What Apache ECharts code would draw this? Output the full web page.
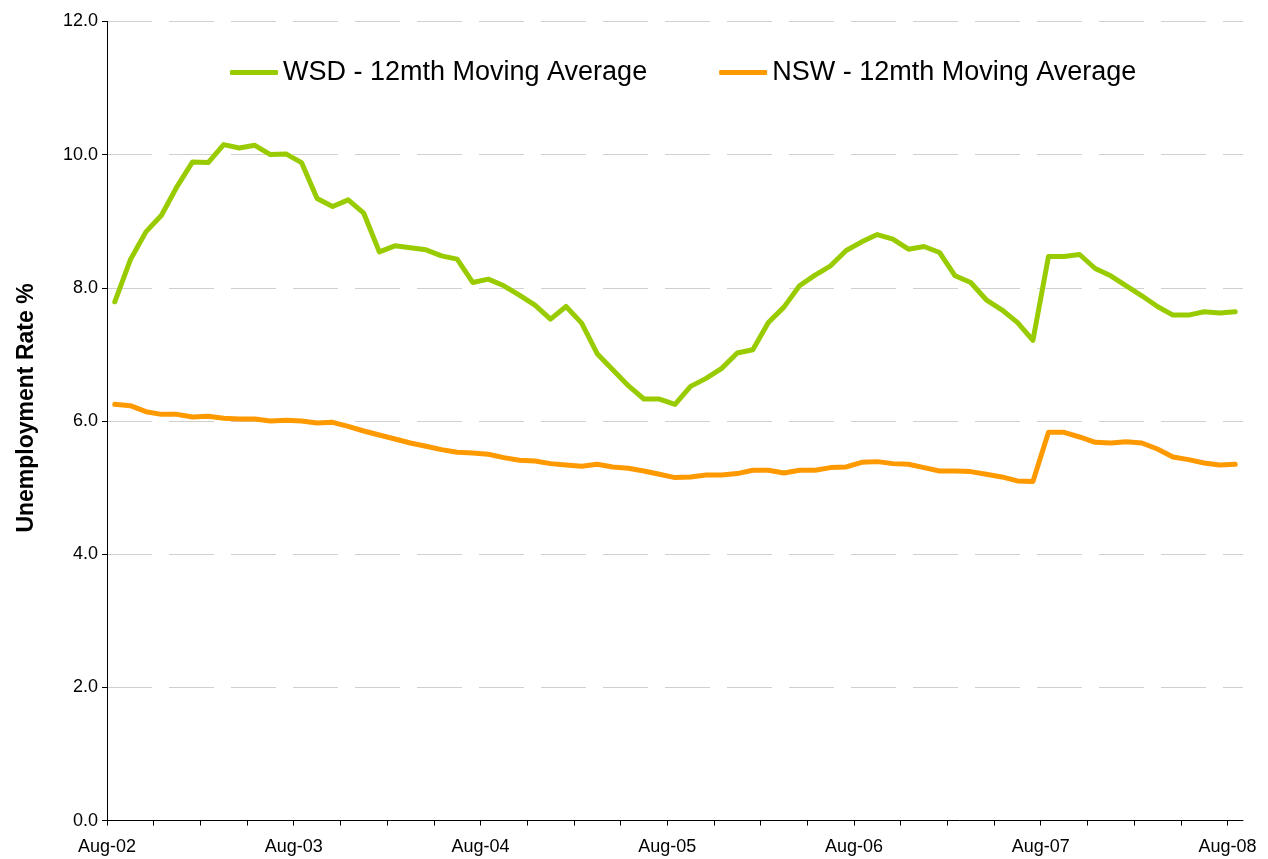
<!DOCTYPE html>
<html>
<head>
<meta charset="utf-8">
<script src="https://cdn.jsdelivr.net/npm/echarts@6/dist/echarts.min.js"></script>
<style>
  html, body { margin: 0; padding: 0; background: #fff; }
  #chart { width: 1268px; height: 859px; }
</style>
</head>
<body>
<div id="chart"></div>
<script>
// monthly, Aug-02 .. Aug-08
const months = [];
const monthNames = ["Aug", "Sep", "Oct", "Nov", "Dec", "Jan", "Feb", "Mar", "Apr", "May", "Jun", "Jul"];
for (let i = 0; i < 73; i++) {
  const yr = 2 + Math.floor((i + 7) / 12);
  months.push(monthNames[i % 12] + "-0" + yr);
}

const tickLabels = ["Aug-02", "Aug-03", "Aug-04", "Aug-05", "Aug-06", "Aug-07", "Aug-08"];

const wsd = [
  7.79, 8.42, 8.84, 9.09, 9.52, 9.89, 9.88, 10.15, 10.10, 10.14, 10.00, 10.01,
  9.88, 9.34, 9.22, 9.32, 9.12, 8.54, 8.63, 8.60, 8.57, 8.48, 8.43, 8.08,
  8.13, 8.03, 7.89, 7.74, 7.53, 7.72, 7.47, 7.01, 6.77, 6.53, 6.33, 6.33,
  6.25, 6.52, 6.64, 6.79, 7.02, 7.07, 7.48, 7.71, 8.03, 8.19, 8.33, 8.56,
  8.69, 8.80, 8.73, 8.58, 8.62, 8.53, 8.18, 8.08, 7.82, 7.67, 7.48, 7.21,
  8.47, 8.47, 8.50, 8.29, 8.18, 8.03, 7.88, 7.72, 7.59, 7.59, 7.64, 7.62,
  7.64
];

const nsw = [
  6.25, 6.23, 6.14, 6.10, 6.10, 6.06, 6.07, 6.04, 6.03, 6.03, 6.00, 6.01,
  6.00, 5.97, 5.98, 5.92, 5.85, 5.79, 5.73, 5.67, 5.62, 5.57, 5.53, 5.52,
  5.50, 5.45, 5.41, 5.40, 5.36, 5.34, 5.32, 5.35, 5.31, 5.29, 5.25, 5.20,
  5.15, 5.16, 5.19, 5.19, 5.21, 5.26, 5.26, 5.22, 5.26, 5.26, 5.30, 5.31,
  5.38, 5.39, 5.36, 5.35, 5.30, 5.25, 5.25, 5.24, 5.20, 5.16, 5.10, 5.09,
  5.83, 5.83, 5.76, 5.68, 5.67, 5.69, 5.67, 5.58, 5.46, 5.42, 5.37, 5.34,
  5.35
];

const font = "Arial, 'Liberation Sans', sans-serif";

// each month sits in the middle of its slot, labels sit on the slot edges
const toPoints = (vals) => vals.map((v, i) => [i + 0.5, v]);

const chart = echarts.init(document.getElementById("chart"));
chart.setOption({
  animation: false,
  backgroundColor: "#fff",
  grid: { left: 107, right: 25, top: 21.4, bottom: 38.4 },
  legend: {
    left: 225,
    top: 54,
    icon: "roundRect",
    itemWidth: 48,
    itemHeight: 5,
    itemGap: 72,
    textStyle: { fontFamily: font, fontSize: 27, color: "#000" },
    data: ["WSD - 12mth Moving Average", "NSW - 12mth Moving Average"]
  },
  xAxis: {
    type: "value",
    min: 0,
    max: months.length,
    interval: 3,
    axisLine: { lineStyle: { color: "#000", width: 1 } },
    axisTick: {
      length: 5,
      lineStyle: { color: "#000" },
      customValues: tickLabels.flatMap((_, k) => k < 6 ? [k * 12, k * 12 + 3, k * 12 + 6, k * 12 + 9] : [k * 12])
    },
    axisLabel: {
      customValues: tickLabels.map((_, k) => k * 12),
      formatter: (v) => tickLabels[v / 12] || "",
      fontFamily: font,
      fontSize: 18,
      color: "#000",
      margin: 17
    },
    splitLine: { show: false }
  },
  yAxis: {
    type: "value",
    min: 0,
    max: 12,
    interval: 2,
    name: "Unemployment Rate %",
    nameLocation: "middle",
    nameGap: 69,
    nameTextStyle: {
      fontFamily: font, fontSize: 23, fontWeight: "bold", color: "#000",
      padding: [0, 0, 0, 26]
    },
    axisLine: { show: true, lineStyle: { color: "#000", width: 1 } },
    axisTick: { show: true, length: 5, lineStyle: { color: "#000" } },
    axisLabel: {
      formatter: (v) => v.toFixed(1),
      fontFamily: font,
      fontSize: 18,
      color: "#000",
      margin: 9
    },
    splitLine: { lineStyle: { color: "#d0d0d0", width: 1, type: [45, 17] } }
  },
  series: [
    {
      name: "WSD - 12mth Moving Average",
      type: "line",
      data: toPoints(wsd),
      symbol: "none",
      lineStyle: { color: "#99cc00", width: 5, cap: "round", join: "round" },
      itemStyle: { color: "#99cc00" }
    },
    {
      name: "NSW - 12mth Moving Average",
      type: "line",
      data: toPoints(nsw),
      symbol: "none",
      lineStyle: { color: "#ff9900", width: 5, cap: "round", join: "round" },
      itemStyle: { color: "#ff9900" }
    }
  ]
});
</script>
</body>
</html>
